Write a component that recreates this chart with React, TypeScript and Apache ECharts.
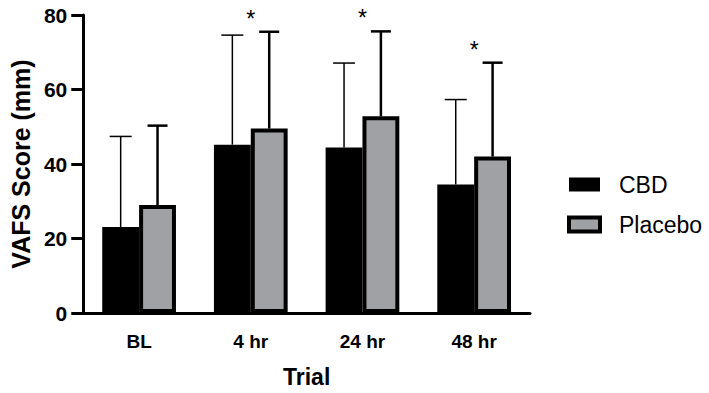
import React, { useEffect, useRef } from "react";
import * as echarts from "echarts";

const categories = ["BL", "4 hr", "24 hr", "48 hr"];
const cbdMean = [23.1, 45.2, 44.4, 34.5];
const cbdUpper = [47.4, 74.6, 67.1, 57.3];
const placeboMean = [29.0, 49.5, 52.8, 42.0];
const placeboUpper = [50.3, 75.5, 75.6, 67.2];
const significant = [false, true, true, true];
const yTicks = [0, 20, 40, 60, 80];

const FONT = "'Liberation Sans', Arial, Helvetica, sans-serif";
const GAP = 0.34;

export default function App() {
  const ref = useRef<HTMLDivElement>(null);
  useEffect(() => {
    const chart = echarts.init(ref.current!, null, { renderer: "svg" });

    const errSeries = (name: string, means: number[], uppers: number[], side: number, lw: number, cap: number) => ({
      type: "custom",
      name: name + "-err",
      z: 5,
      silent: true,
      data: means.map((m, i) => [i, m, uppers[i]]),
      renderItem: (params: any, api: any) => {
        const i = api.value(0);
        const band = api.size([1, 0])[0];
        const bw = (band * (1 - GAP)) / 2;
        const c0 = api.coord([i, api.value(1)]);
        const c1 = api.coord([i, api.value(2)]);
        const x = c0[0] + side * bw / 2;
        return {
          type: "group",
          children: [
            { type: "line", shape: { x1: x, y1: c0[1], x2: x, y2: c1[1] }, style: { stroke: "#000", lineWidth: lw } },
            { type: "line", shape: { x1: x - cap / 2, y1: c1[1], x2: x + cap / 2, y2: c1[1] }, style: { stroke: "#000", lineWidth: lw } },
          ],
        };
      },
    });

    chart.setOption({
      animation: false,
      grid: { left: 80, top: 15, right: 179, bottom: 79 },
      legend: {
        orient: "vertical",
        left: 567,
        top: 173,
        padding: 0,
        icon: "rect",
        itemWidth: 31,
        itemHeight: 14,
        itemGap: 17,
        textStyle: { fontFamily: FONT, fontSize: 23, color: "#000", padding: [0, 0, 0, 14] },
        data: [
          { name: "CBD", itemStyle: { color: "#000", borderColor: "#000", borderWidth: 0 } },
          { name: "Placebo", itemStyle: { color: "#a0a1a5", borderColor: "#000", borderWidth: 4 } },
        ],
      },
      xAxis: {
        type: "category",
        data: categories,
        name: "Trial",
        nameLocation: "middle",
        nameGap: 52,
        nameTextStyle: { fontFamily: FONT, fontSize: 23, fontWeight: "bold", color: "#000" },
        axisLine: { lineStyle: { color: "#000", width: 3 } },
        axisTick: { alignWithLabel: true, length: 12, lineStyle: { color: "#000", width: 3 } },
        axisLabel: { fontFamily: FONT, fontSize: 19, fontWeight: "bold", color: "#000", margin: 19 },
      },
      yAxis: {
        type: "value",
        min: yTicks[0],
        max: yTicks[yTicks.length - 1],
        interval: 20,
        name: "VAFS Score (mm)",
        nameLocation: "middle",
        nameGap: 37,
        nameTextStyle: { fontFamily: FONT, fontSize: 25, fontWeight: "bold", color: "#000" },
        axisLine: { show: true, lineStyle: { color: "#000", width: 3 } },
        axisTick: { show: true, length: 12, lineStyle: { color: "#000", width: 3 } },
        axisLabel: { fontFamily: FONT, fontSize: 21, fontWeight: "bold", color: "#000", margin: 16 },
        splitLine: { show: false },
      },
      series: [
        {
          type: "bar",
          name: "CBD",
          data: cbdMean,
          barGap: "0%",
          barCategoryGap: GAP * 100 + "%",
          itemStyle: { color: "#000", borderColor: "#000", borderWidth: 4 },
        },
        {
          type: "bar",
          name: "Placebo",
          data: placeboMean,
          itemStyle: { color: "#a0a1a5", borderColor: "#000", borderWidth: 4 },
        },
        errSeries("CBD", cbdMean, cbdUpper, -1, 1.5, 22),
        errSeries("Placebo", placeboMean, placeboUpper, 1, 2.5, 20),
        {
          type: "custom",
          name: "sig",
          z: 6,
          silent: true,
          data: categories.map((_, i) => [i, Math.max(cbdUpper[i], placeboUpper[i]), significant[i] ? 1 : 0]),
          renderItem: (params: any, api: any) => {
            if (!api.value(2)) return null;
            const c = api.coord([api.value(0), api.value(1)]);
            return {
              type: "text",
              x: c[0],
              y: c[1] - 13,
              style: { text: "*", fontFamily: FONT, fontSize: 23, fill: "#000", align: "center", verticalAlign: "middle" },
            };
          },
        },
      ],
    });
    return () => chart.dispose();
  }, []);
  return <div ref={ref} style={{ position: "absolute", left: 0, top: 0, width: 709, height: 393 }} />;
}
